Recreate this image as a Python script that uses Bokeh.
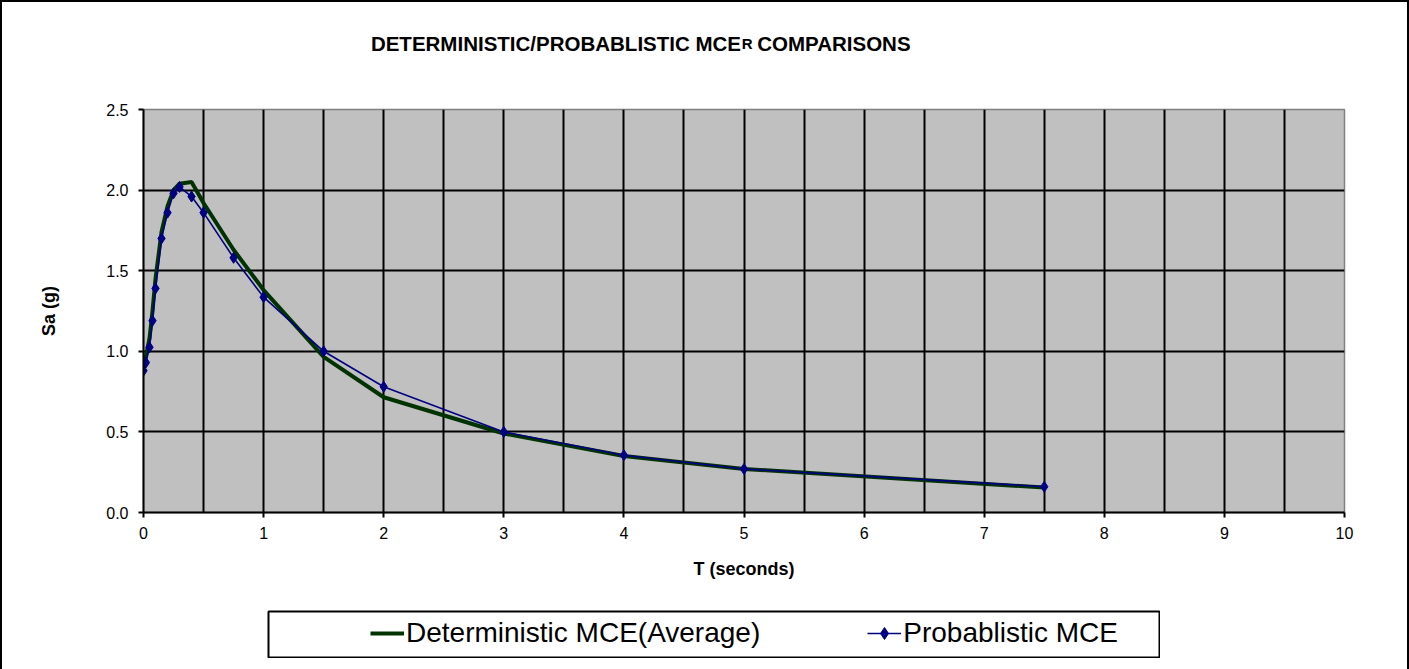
import numpy as np
from bokeh.plotting import figure
from bokeh.layouts import column, row
from bokeh.models import (Range1d, SingleIntervalTicker, FixedTicker, Legend, LegendItem,
                          NumeralTickFormatter, Spacer, Label)
from bokeh.embed import file_html
from bokeh.resources import INLINE

# ---- data ----
T = [0, 0.02, 0.05, 0.075, 0.1, 0.15, 0.2, 0.25, 0.3, 0.4, 0.5, 0.75, 1.0, 1.5, 2.0, 3.0, 4.0, 5.0, 7.5]
SA_DET = [0.93, 0.97, 1.08, 1.25, 1.45, 1.74, 1.90, 2.00, 2.04, 2.05, 1.92, 1.63, 1.38, 0.965, 0.715, 0.49, 0.35, 0.27, 0.155]
SA_PROB = [0.88, 0.93, 1.025, 1.19, 1.39, 1.70, 1.86, 1.98, 2.02, 1.96, 1.86, 1.58, 1.336, 1.0, 0.78, 0.50, 0.355, 0.27, 0.16]
X_TICKS = [0, 1, 2, 3, 4, 5, 6, 7, 8, 9, 10]
Y_TICKS = [0.0, 0.5, 1.0, 1.5, 2.0, 2.5]
TITLE_MAIN = "DETERMINISTIC/PROBABLISTIC MCE"
TITLE_SUB = "R"
TITLE_END = "COMPARISONS"
X_LABEL = "T (seconds)"
Y_LABEL = "Sa (g)"
DET_NAME = "Deterministic MCE(Average)"
PROB_NAME = "Probablistic MCE"

FONT = "Liberation Sans"
GREEN = "#003300"
NAVY = "#000080"
EDGE = "2px solid black"
W = 1409

# ---------------- title strip ----------------
TH = 70
tfig = figure(width=W, height=TH, output_backend="svg", toolbar_location=None,
              x_range=Range1d(0, W), y_range=Range1d(TH, 0),
              x_axis_location=None, y_axis_location=None, min_border=0,
              styles={"border-top": EDGE, "border-left": EDGE, "border-right": EDGE})
tfig.title.visible = False
tfig.xgrid.visible = False
tfig.ygrid.visible = False
tfig.outline_line_color = None
tfig.background_fill_color = "white"
tfig.border_fill_color = "white"
tkw = dict(text_font=FONT, text_font_style="bold", text_baseline="alphabetic", text_color="black")
tfig.add_layout(Label(x=701, y=40.5, text=TITLE_MAIN, text_align="right", text_font_size="20.5px", **tkw))
tfig.add_layout(Label(x=702, y=40.5, text=TITLE_SUB, text_align="left", text_font_size="15px", **tkw))
tfig.add_layout(Label(x=720, y=40.5, text=TITLE_END, text_align="left", text_font_size="20.5px", **tkw))

# ---------------- main chart ----------------
p = figure(width=W, height=540, output_backend="svg", toolbar_location=None,
           x_range=Range1d(0, 10), y_range=Range1d(0, 2.5),
           min_border_left=141, min_border_right=67, min_border_top=39, min_border_bottom=98,
           styles={"border-left": EDGE, "border-right": EDGE})
p.title.visible = False
p.background_fill_color = "#C0C0C0"
p.border_fill_color = "white"
p.outline_line_color = "#808080"
p.outline_line_width = 1.5

for g in (p.xgrid, p.ygrid):
    g.ticker = SingleIntervalTicker(interval=0.5)
    g.grid_line_color = "black"
    g.grid_line_width = 2
    g.grid_line_alpha = 1

p.xaxis.ticker = FixedTicker(ticks=X_TICKS)
p.yaxis.ticker = FixedTicker(ticks=Y_TICKS)
p.yaxis.formatter = NumeralTickFormatter(format="0.0")
for ax in (p.xaxis, p.yaxis):
    ax.axis_line_color = "black"
    ax.axis_line_width = 2
    ax.major_tick_line_color = "black"
    ax.major_tick_line_width = 2
    ax.major_tick_in = 0
    ax.major_tick_out = 5
    ax.minor_tick_line_color = None
    ax.major_label_text_font = FONT
    ax.major_label_text_font_size = "16px"
    ax.major_label_text_color = "black"
    ax.axis_label_text_font = FONT
    ax.axis_label_text_font_size = "18px"
    ax.axis_label_text_font_style = "bold"
    ax.axis_label_text_color = "black"
p.xaxis.major_label_standoff = 9
p.yaxis.major_label_standoff = 10
p.xaxis.axis_label = X_LABEL
p.yaxis.axis_label = Y_LABEL
p.xaxis.axis_label_standoff = 17
p.yaxis.axis_label_standoff = 44

p.line(T, SA_DET, line_color=GREEN, line_width=4)
p.line(T, SA_PROB, line_color=NAVY, line_width=1.6)
p.scatter(T, SA_PROB, marker="diamond", size=11, fill_color=NAVY, line_color=NAVY)

# ---------------- legend box (separate small figure) ----------------
leg = figure(width=893, height=48, output_backend="svg", toolbar_location=None,
             x_range=Range1d(0, 1), y_range=Range1d(0, 1),
             x_axis_location=None, y_axis_location=None, min_border=1)
leg.title.visible = False
leg.xgrid.visible = False
leg.ygrid.visible = False
leg.background_fill_color = "white"
leg.border_fill_color = "white"
leg.outline_line_color = "black"
leg.outline_line_width = 2
# legend proxies styled like the chart's series (a single NaN point, nothing drawn)
nan = np.array([np.nan])
k_det = leg.line(x=nan, y=nan, line_color=GREEN, line_width=4)
k_prob = leg.line(x=nan, y=nan, line_color=NAVY, line_width=1.6)
k_mark = leg.scatter(x=nan, y=nan, marker="diamond", size=11, fill_color=NAVY, line_color=NAVY)

legend = Legend(items=[LegendItem(label=DET_NAME, renderers=[k_det]),
                       LegendItem(label=PROB_NAME, renderers=[k_prob, k_mark])],
                location=(102, 8), orientation="horizontal", padding=0, margin=0,
                spacing=107, glyph_width=34, glyph_height=30, label_height=30, label_standoff=2,
                label_text_font=FONT, label_text_font_size="28px", label_text_color="black",
                border_line_alpha=0, background_fill_alpha=0)
leg.add_layout(legend, "center")

left_pad = Spacer(width=267, height=59, styles={"border-left": EDGE})
right_pad = Spacer(width=W - 267 - 893, height=59, styles={"border-right": EDGE})
bottom = row(left_pad, leg, right_pad)

layout = column(tfig, p, bottom)
open("out.html", "w").write(file_html(layout, INLINE))
